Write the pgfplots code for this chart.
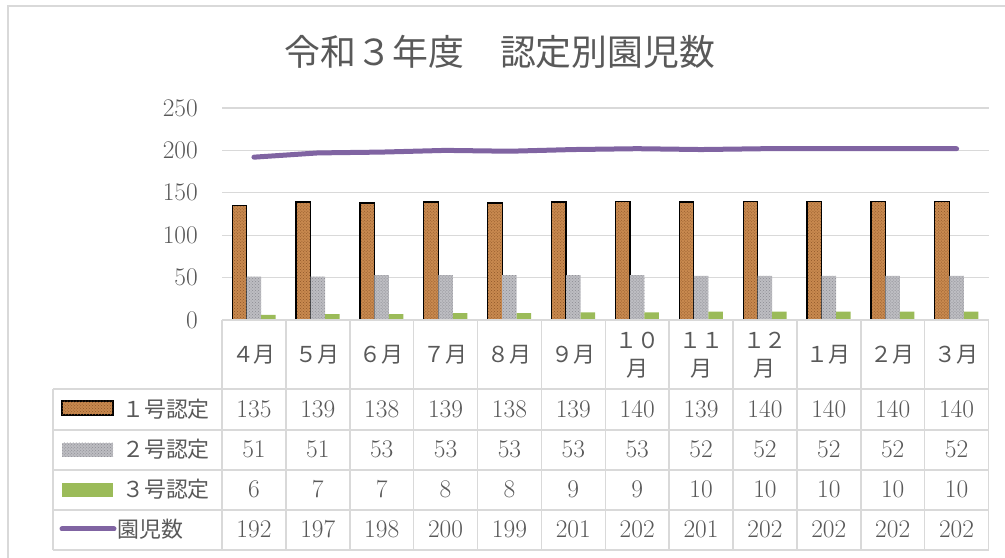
\documentclass[border=0pt]{standalone}
\usepackage{fontspec}
\usepackage{pgfplots}
\usepackage{pgfplotstable}
\pgfplotsset{compat=1.18}
\usetikzlibrary{patterns}
\newfontfamily\cjk{Noto Sans CJK JP}

\definecolor{textgray}{HTML}{595959}
\definecolor{gridgray}{HTML}{D9D9D9}
\definecolor{cork}{HTML}{C8894F}
\definecolor{corkdark}{HTML}{8E5628}
\definecolor{stone}{HTML}{BDBDC2}
\definecolor{stonedark}{HTML}{8A8A90}
\definecolor{leaf}{HTML}{9BBB59}
\definecolor{plum}{HTML}{8064A2}

% month, 1号認定, 2号認定, 3号認定, 園児数
\pgfplotstableread{
m  n1  n2  n3  tot
0  135 51  6   192
1  139 51  7   197
2  138 53  7   198
3  139 53  8   200
4  138 53  8   199
5  139 53  9   201
6  140 53  9   202
7  139 52  10  201
8  140 52  10  202
9  140 52  10  202
10 140 52  10  202
11 140 52  10  202
}\data

\newcommand\lab{\fontsize{25.5}{30}\selectfont}
\newcommand\jlab{\cjk\fontsize{22}{28}\selectfont}
\tikzset{
  corkfill/.style={fill=cork, postaction={pattern=crosshatch dots, pattern color=corkdark}},
  stonefill/.style={fill=stone, postaction={pattern=crosshatch dots, pattern color=stonedark}},
}

\begin{document}
\begin{tikzpicture}[x=1bp,y=1bp]
\useasboundingbox (0,0) rectangle (1005,558);
% chart frame
\draw[gridgray, line width=1.2bp] (8,0) -- (8,552) -- (1005,552);

\node[anchor=base, text=textgray, font=\cjk\fontsize{36}{40}\selectfont]
  at (500,{558-66}) {令和３年度　認定別園児数};

\begin{axis}[
  at={(222bp,238bp)}, anchor=south west,
  scale only axis, width=766.5bp, height=212bp,
  xmin=-0.5, xmax=11.5, ymin=0, ymax=250,
  ytick={0,50,...,250},
  xtick={0,...,11},
  xticklabels={４月,５月,６月,７月,８月,９月,{１０\\月},{１１\\月},{１２\\月},１月,２月,３月},
  axis line style={draw=none},
  major tick length=0pt,
  ymajorgrids,
  grid style={draw=gridgray, line width=1.2bp},
  /pgf/number format/assume math mode=true,
  yticklabel style={font=\lab, text=textgray, anchor=east, inner sep=0pt, xshift=-24bp},
  xticklabel style={font=\jlab, text=textgray, align=center, anchor=center, yshift=-35bp},
  clip=false,
]
\addplot[ybar, bar width=14.5bp, bar shift=-14.5bp, corkfill, draw=black, line width=1.3bp]
  table[x=m, y=n1] {\data};
\addplot[ybar, bar width=14.5bp, bar shift=0bp, stonefill, draw=none]
  table[x=m, y=n2] {\data};
\addplot[ybar, bar width=14.5bp, bar shift=14.5bp, fill=leaf, draw=none]
  table[x=m, y=n3] {\data};
\addplot[plum, line width=5bp, line cap=round, line join=round, mark=none]
  table[x=m, y=tot] {\data};
\end{axis}

% data table grid
\begin{scope}[gridgray, line width=1.5bp]
  \foreach \k in {0,...,12}
    \draw ({222+63.875*\k},{558-320}) -- ({222+63.875*\k},{558-550});
  \draw (53,{558-389}) -- (53,{558-550});
  \draw (222,{558-320}) -- (988.5,{558-320});
  \foreach \yy in {389,430,470,510,550}
    \draw (53,{558-\yy}) -- (988.5,{558-\yy});
\end{scope}

% legend keys and row names
\filldraw[corkfill, draw=black, line width=1.3bp] (62,{558-401}) rectangle (113,{558-415});
\path[stonefill] (62,{558-443}) rectangle (113,{558-457});
\fill[leaf] (62,{558-483}) rectangle (113,{558-497});
\draw[plum, line width=5bp, line cap=round] (62,{558-529}) -- (114,{558-529});
\begin{scope}[every node/.style={anchor=base west, text=textgray, font=\jlab, inner sep=0pt}]
  \node at (122,{558-418}) {１号認定};
  \node at (122,{558-458}) {２号認定};
  \node at (122,{558-498}) {３号認定};
  \node at (117,{558-538}) {園児数};
\end{scope}

% data table values
\foreach \i in {0,...,11}{
  \pgfmathsetmacro\cx{222+63.875*(\i+0.5)}
  \foreach \col/\r in {n1/0,n2/1,n3/2,tot/3}{
    \pgfplotstablegetelem{\i}{\col}\of\data
    \node[anchor=base, text=textgray, font=\lab, inner sep=0pt]
      at (\cx,{558-418-40*\r}) {\pgfplotsretval};
  }
}
\end{tikzpicture}
\end{document}
